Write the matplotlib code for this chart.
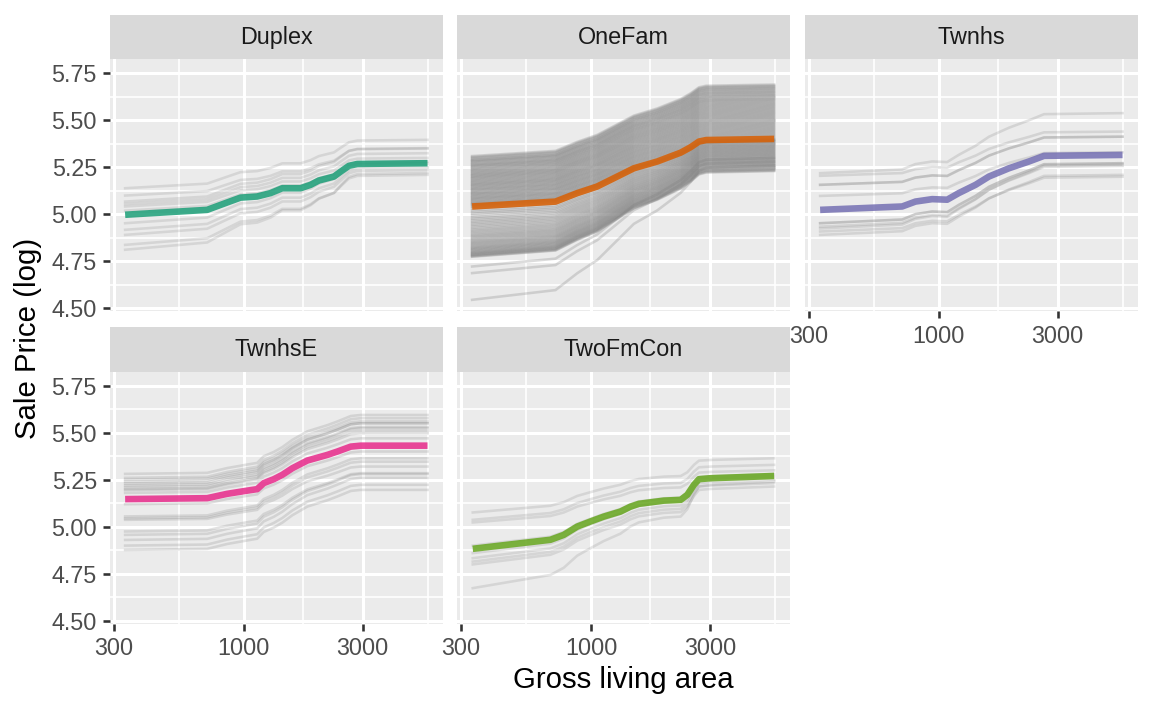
import numpy as np
import matplotlib.pyplot as plt
from matplotlib.ticker import FixedLocator, FixedFormatter, NullFormatter

plt.rcParams['font.family'] = ['Liberation Sans', 'DejaVu Sans']

building_types = ['Duplex', 'OneFam', 'Twnhs', 'TwnhsE', 'TwoFmCon']
line_colors = ['#1B9E77', '#D95F02', '#7570B3', '#E7298A', '#66A61E']

# average curve (partial dependence) per building type
duplex_area = [334, 713, 857, 970, 1132, 1281, 1428, 1691, 1855, 2003, 2303, 2449, 2644, 2858, 5468]
duplex_pdp = [4.998, 5.024, 5.063, 5.089, 5.095, 5.113, 5.139, 5.139, 5.157, 5.180, 5.201, 5.227, 5.258, 5.268, 5.272]

onefam_area = [333, 720, 880, 1058, 1274, 1486, 1845, 2290, 2512, 2712, 2900, 5433]
onefam_pdp = [5.042, 5.068, 5.113, 5.148, 5.201, 5.245, 5.281, 5.328, 5.357, 5.387, 5.395, 5.401]

twnhs_area = [334, 713, 806, 941, 1081, 1203, 1405, 1590, 1914, 2303, 2647, 5468]
twnhs_pdp = [5.024, 5.042, 5.068, 5.081, 5.078, 5.113, 5.157, 5.201, 5.245, 5.281, 5.311, 5.316]

twnhse_area = [334, 713, 857, 1032, 1132, 1203, 1321, 1428, 1567, 1800, 2167, 2378, 2690, 2947, 5468]
twnhse_pdp = [5.147, 5.152, 5.175, 5.192, 5.200, 5.232, 5.253, 5.276, 5.311, 5.352, 5.382, 5.400, 5.426, 5.431, 5.431]

twofmcon_area = [335, 687, 777, 880, 994, 1124, 1313, 1440, 1556, 1961, 2290, 2435, 2589, 2712, 3020, 5433]
twofmcon_pdp = [4.883, 4.931, 4.957, 5.001, 5.028, 5.054, 5.081, 5.107, 5.122, 5.139, 5.143, 5.170, 5.223, 5.253, 5.258, 5.270]

# individual curves: value at the smallest and at the largest living area
duplex_ice_start = [5.139, 5.10, 5.068, 5.055, 5.042, 5.02, 4.953, 4.918, 4.891, 4.838, 4.812]
duplex_ice_end = [5.396, 5.35, 5.352, 5.325, 5.30, 5.28, 5.27, 5.25, 5.236, 5.21, 5.22]

onefam_ice_start = [
    5.31, 5.305, 5.30, 5.296, 5.29, 5.287, 5.283, 5.28, 5.275, 5.27, 5.266, 5.262, 5.258,
    5.255, 5.25, 5.246, 5.242, 5.238, 5.233, 5.229, 5.225, 5.22, 5.216, 5.212, 5.208, 5.204,
    5.20, 5.196, 5.192, 5.188, 5.183, 5.179, 5.175, 5.17, 5.166, 5.162, 5.158, 5.154, 5.15,
    5.146, 5.141, 5.137, 5.133, 5.129, 5.125, 5.12, 5.116, 5.112, 5.108, 5.104, 5.10, 5.095,
    5.091, 5.087, 5.083, 5.079, 5.075, 5.07, 5.066, 5.062, 5.058, 5.054, 5.05, 5.045, 5.04,
    5.032, 5.022, 5.012, 5.004, 4.995, 4.985, 4.977, 4.968, 4.96, 4.952, 4.944, 4.936, 4.928,
    4.92, 4.913, 4.906, 4.899, 4.892, 4.886, 4.88, 4.874, 4.868, 4.862, 4.856, 4.851, 4.846,
    4.841, 4.836, 4.831, 4.826, 4.822, 4.818, 4.814, 4.81, 4.806, 4.802, 4.798, 4.795, 4.792,
    4.789, 4.786, 4.783, 4.78, 4.777, 4.775, 4.723, 4.688, 4.546]
onefam_ice_end = [
    5.69, 5.685, 5.68, 5.676, 5.671, 5.667, 5.662, 5.657, 5.652, 5.648, 5.643, 5.638, 5.633,
    5.629, 5.624, 5.619, 5.614, 5.61, 5.605, 5.60, 5.595, 5.59, 5.585, 5.58, 5.575, 5.57,
    5.565, 5.56, 5.555, 5.55, 5.545, 5.54, 5.535, 5.53, 5.525, 5.52, 5.515, 5.51, 5.505,
    5.50, 5.495, 5.49, 5.485, 5.48, 5.475, 5.47, 5.465, 5.46, 5.455, 5.45, 5.445, 5.44,
    5.435, 5.43, 5.425, 5.42, 5.415, 5.41, 5.405, 5.40, 5.398, 5.395, 5.393, 5.39, 5.388,
    5.385, 5.381, 5.378, 5.374, 5.371, 5.367, 5.364, 5.36, 5.357, 5.353, 5.35, 5.346, 5.343,
    5.339, 5.336, 5.332, 5.329, 5.325, 5.322, 5.318, 5.315, 5.311, 5.308, 5.304, 5.30, 5.297,
    5.293, 5.29, 5.286, 5.283, 5.279, 5.275, 5.272, 5.268, 5.265, 5.261, 5.258, 5.254, 5.25,
    5.247, 5.243, 5.24, 5.236, 5.233, 5.23, 5.30, 5.28, 5.26]

twnhs_ice_start = [5.219, 5.205, 5.157, 5.157, 5.098, 4.953, 4.953, 4.935, 4.925, 4.909, 4.891]
twnhs_ice_end = [5.538, 5.44, 5.413, 5.413, 5.33, 5.272, 5.272, 5.258, 5.265, 5.20, 5.21]

twnhse_ice_start = [5.281, 5.26, 5.25, 5.24, 5.23, 5.22, 5.21, 5.20, 5.195, 5.18, 5.12,
                    5.055, 5.045, 5.037, 4.975, 4.957, 4.93, 4.90, 4.877]
twnhse_ice_end = [5.594, 5.577, 5.56, 5.55, 5.55, 5.53, 5.524, 5.51, 5.497, 5.47, 5.40,
                  5.364, 5.346, 5.32, 5.285, 5.28, 5.26, 5.223, 5.196]

twofmcon_ice_start = [5.076, 5.037, 5.023, 4.90, 4.86, 4.833, 4.815, 4.80, 4.674]
twofmcon_ice_end = [5.364, 5.329, 5.30, 5.28, 5.267, 5.25, 5.232, 5.214, 5.24]

panel_area = [duplex_area, onefam_area, twnhs_area, twnhse_area, twofmcon_area]
panel_pdp = [duplex_pdp, onefam_pdp, twnhs_pdp, twnhse_pdp, twofmcon_pdp]
panel_start = [duplex_ice_start, onefam_ice_start, twnhs_ice_start, twnhse_ice_start, twofmcon_ice_start]
panel_end = [duplex_ice_end, onefam_ice_end, twnhs_ice_end, twnhse_ice_end, twofmcon_ice_end]

x_major = [300, 1000, 3000]
x_minor = [548, 1732, 5477]
y_major = [4.50, 4.75, 5.00, 5.25, 5.50, 5.75]
y_minor = [4.625, 4.875, 5.125, 5.375, 5.625]

W, H = 1152, 711
fig = plt.figure(figsize=(W / 144, H / 144), dpi=144)

col_left = [110, 457.3, 805]
row_top = [59.3, 371.7]
pan_w, pan_h, strip_h = 332.5, 252.2, 44.3
ice_alpha = [0.2, 0.27, 0.22, 0.22, 0.2]

for i, name in enumerate(building_types):
    row, col = i // 3, i % 3
    left, top = col_left[col], row_top[row]
    ax = fig.add_axes([left / W, 1 - (top + pan_h) / H, pan_w / W, pan_h / H])
    sax = fig.add_axes([left / W, 1 - top / H, pan_w / W, strip_h / H])
    sax.set_facecolor('#D9D9D9')
    sax.set_xticks([])
    sax.set_yticks([])
    for s in sax.spines.values():
        s.set_visible(False)
    sax.text(0.5, 0.5, name, ha='center', va='center', fontsize=11.7, color='#1A1A1A',
             transform=sax.transAxes)

    ax.set_facecolor('#EBEBEB')
    for s in ax.spines.values():
        s.set_visible(False)
    ax.set_xscale('log')
    ax.set_xlim(10 ** 2.463, 10 ** 3.798)
    ax.set_ylim(4.484, 5.824)

    ax.xaxis.set_major_locator(FixedLocator(x_major))
    ax.xaxis.set_major_formatter(FixedFormatter([str(v) for v in x_major]))
    ax.xaxis.set_minor_locator(FixedLocator(x_minor))
    ax.xaxis.set_minor_formatter(NullFormatter())
    ax.yaxis.set_major_locator(FixedLocator(y_major))
    ax.yaxis.set_major_formatter(FixedFormatter(['%.2f' % v for v in y_major]))
    ax.yaxis.set_minor_locator(FixedLocator(y_minor))
    ax.grid(which='major', color='white', linewidth=1.5)
    ax.grid(which='minor', color='white', linewidth=0.8)
    ax.set_axisbelow(True)
    ax.tick_params(which='minor', length=0)
    ax.tick_params(which='major', length=3.67, width=1.3, color='#333333',
                   labelsize=11.7, labelcolor='#4D4D4D', pad=2.9)

    show_x = (row == 1) or (col == 2)
    show_y = col == 0
    if not show_x:
        ax.tick_params(axis='x', which='major', length=0, labelbottom=False)
    if not show_y:
        ax.tick_params(axis='y', which='major', length=0, labelleft=False)

    area = np.array(panel_area[i], dtype=float)
    pdp = np.array(panel_pdp[i])
    shape = (pdp - pdp[0]) / (pdp[-1] - pdp[0])
    for lo, hi in zip(panel_start[i], panel_end[i]):
        ax.plot(area, lo + (hi - lo) * shape, color='#7F7F7F', alpha=ice_alpha[i], linewidth=1.3)
    ax.plot(area, pdp, color=line_colors[i], alpha=0.85, linewidth=3.3, solid_capstyle='butt')

fig.text(623 / W, 1 - 680 / H, 'Gross living area', ha='center', va='center', fontsize=14.7)
fig.text(28 / W, 1 - 338 / H, 'Sale Price (log)', ha='center', va='center', fontsize=14.7,
         rotation=90)

fig.savefig('out.png', dpi=144)
